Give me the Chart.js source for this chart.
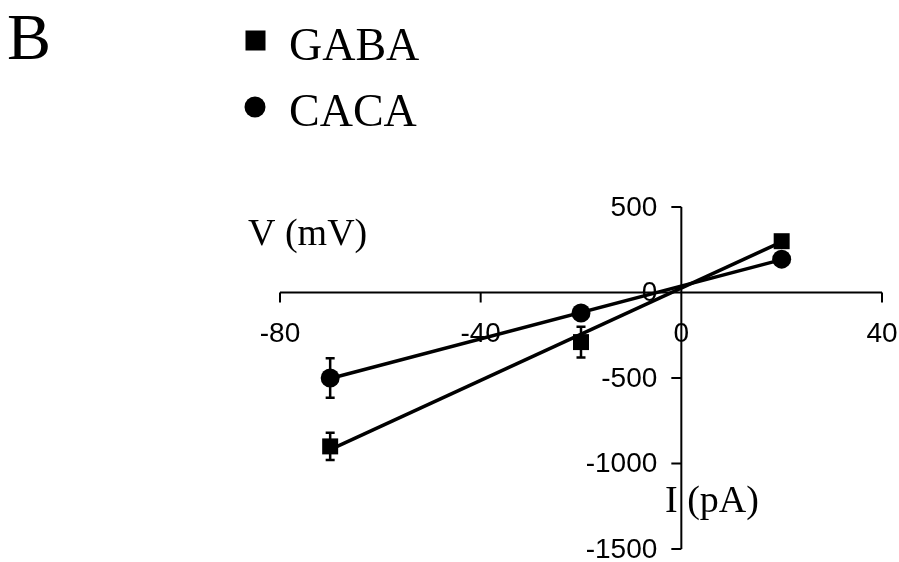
<!DOCTYPE html>
<html>
<head>
<meta charset="utf-8">
<script src="https://cdn.jsdelivr.net/npm/chart.js@4.4.1/dist/chart.umd.min.js"></script>
<style>
  html, body { margin: 0; padding: 0; background: #fff; }
  #wrap { width: 899px; height: 562px; }
</style>
</head>
<body>
<div id="wrap"><canvas id="ivChart" width="899" height="562"></canvas></div>
<script>
// --- DATA ---
const currentI = [-70, -20, 20];          // pA
const gabaV = [-900, -290, 300];          // mV
const gabaErr = [80, 90, 0];
const cacaV = [-500, -120, 195];
const cacaErr = [115, 0, 0];

// regression lines as drawn in the figure
const fitI = [-70, 20];
const gabaFitV = [-919, 296];
const cacaFitV = [-503, 192];

const xTicks = [-80, -40, 0, 40];
const yTicks = [500, 0, -500, -1000, -1500];

const SERIF = '"Liberation Serif", "Times New Roman", serif';
const SANS = '"Liberation Sans", Arial, sans-serif';

const toPoints = (xs, ys) => xs.map((x, i) => ({ x: x, y: ys[i] }));

// --- PLUGIN: axes crossing at the origin ---
const crossAxes = {
    id: 'crossAxes',
    beforeDatasetsDraw(chart) {
        const { ctx, scales: { x, y } } = chart;
        const x0 = x.getPixelForValue(0);
        const y0 = y.getPixelForValue(0);
        ctx.save();
        ctx.strokeStyle = '#000';
        ctx.lineWidth = 2;
        ctx.beginPath();
        ctx.moveTo(x.getPixelForValue(xTicks[0]), y0);
        ctx.lineTo(x.getPixelForValue(xTicks[xTicks.length - 1]), y0);
        ctx.moveTo(x0, y.getPixelForValue(yTicks[0]));
        ctx.lineTo(x0, y.getPixelForValue(yTicks[yTicks.length - 1]));
        xTicks.forEach(t => {
            const px = x.getPixelForValue(t);
            ctx.moveTo(px, y0);
            ctx.lineTo(px, y0 + 10);
        });
        yTicks.forEach(t => {
            const py = y.getPixelForValue(t);
            ctx.moveTo(x0, py);
            ctx.lineTo(x0 - 10, py);
        });
        ctx.stroke();

        ctx.fillStyle = '#000';
        ctx.font = '28px ' + SANS;
        ctx.textBaseline = 'middle';
        ctx.textAlign = 'center';
        xTicks.forEach(t => ctx.fillText(String(t), x.getPixelForValue(t), y0 + 42));
        ctx.textAlign = 'right';
        yTicks.forEach(t => ctx.fillText(String(t), x0 - 24, y.getPixelForValue(t) + 1));

        // error bars
        ctx.lineWidth = 2.5;
        const bars = (vals, errs) => vals.forEach((v, i) => {
            if (!errs[i]) return;
            const px = x.getPixelForValue(currentI[i]);
            const top = y.getPixelForValue(v + errs[i]);
            const bot = y.getPixelForValue(v - errs[i]);
            ctx.beginPath();
            ctx.moveTo(px, top); ctx.lineTo(px, bot);
            ctx.moveTo(px - 4.5, top); ctx.lineTo(px + 4.5, top);
            ctx.moveTo(px - 4.5, bot); ctx.lineTo(px + 4.5, bot);
            ctx.stroke();
        });
        bars(gabaV, gabaErr);
        bars(cacaV, cacaErr);
        ctx.restore();
    },
    afterDraw(chart) {
        const { ctx } = chart;
        ctx.save();
        ctx.fillStyle = '#000';
        ctx.textAlign = 'left';
        ctx.textBaseline = 'alphabetic';

        ctx.font = '66px ' + SERIF;
        ctx.fillText('B', 7, 59);

        // legend
        ctx.fillRect(245.5, 30.5, 20, 20);
        ctx.beginPath();
        ctx.arc(255, 107, 10.5, 0, Math.PI * 2);
        ctx.fill();
        ctx.font = '46px ' + SERIF;
        ctx.fillText('GABA', 289, 60);
        ctx.fillText('CACA', 289, 126);

        // axis titles
        ctx.font = '38px ' + SERIF;
        ctx.fillText('V (mV)', 248, 245);
        ctx.fillText('I (pA)', 665, 512);
        ctx.restore();
    }
};

new Chart(document.getElementById('ivChart'), {
    type: 'scatter',
    data: {
        datasets: [
            {
                type: 'line', label: 'GABA fit', data: toPoints(fitI, gabaFitV),
                borderColor: '#000', borderWidth: 3.5, pointRadius: 0, fill: false, order: 2
            },
            {
                type: 'line', label: 'CACA fit', data: toPoints(fitI, cacaFitV),
                borderColor: '#000', borderWidth: 3.5, pointRadius: 0, fill: false, order: 2
            },
            {
                label: 'GABA', data: toPoints(currentI, gabaV),
                pointStyle: 'rect', pointRadius: 11.3, borderWidth: 0,
                backgroundColor: '#000', order: 1
            },
            {
                label: 'CACA', data: toPoints(currentI, cacaV),
                pointStyle: 'circle', pointRadius: 9.5, borderWidth: 0,
                backgroundColor: '#000', order: 1
            }
        ]
    },
    options: {
        responsive: false,
        animation: false,
        devicePixelRatio: 1,
        layout: { padding: { left: 280, right: 17, top: 207, bottom: 13 } },
        scales: {
            x: { type: 'linear', min: -80, max: 40, display: false },
            y: { type: 'linear', min: -1500, max: 500, display: false }
        },
        plugins: {
            legend: { display: false },
            tooltip: { enabled: false }
        }
    },
    plugins: [crossAxes]
});
</script>
</body>
</html>
